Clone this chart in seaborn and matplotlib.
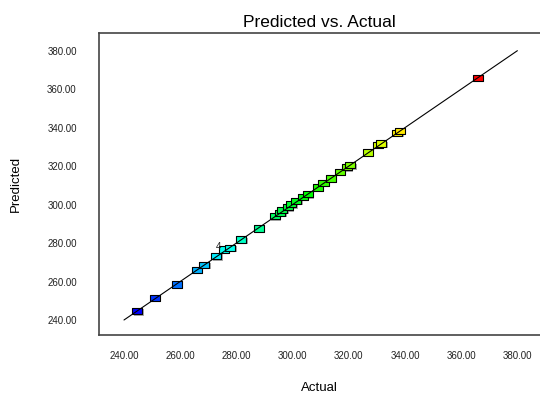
import numpy as np
import pandas as pd
import matplotlib
import matplotlib.pyplot as plt
import matplotlib.patheffects as pe
from matplotlib.path import Path
from matplotlib.colors import LinearSegmentedColormap
import seaborn as sns

matplotlib.use("Agg")

# data
actual = [244.8, 251.0, 258.9, 265.9, 268.6, 272.8, 275.6, 277.8, 281.8, 287.9,
          293.7, 295.6, 296.4, 298.3, 299.6, 301.3, 303.7, 305.5, 308.9, 311.0,
          313.5, 316.9, 319.2, 320.6, 326.8, 330.4, 331.6, 337.2, 338.1, 366.0]
predicted = [244.6, 251.6, 258.5, 266.0, 268.6, 273.2, 276.7, 277.6, 281.9, 287.6,
             294.0, 295.8, 297.2, 298.6, 300.2, 302.0, 304.0, 305.3, 308.9, 311.3,
             313.6, 317.0, 319.4, 320.4, 327.1, 331.0, 331.8, 337.3, 338.4, 366.0]
line_ends = [240, 380]
ticks = [240, 260, 280, 300, 320, 340, 360, 380]
replicate_label = "4"
replicate_pos = (274.6, 278.2)

df = pd.DataFrame({"Actual": actual, "Predicted": predicted})

sns.set_style("white")
plt.rcParams["font.family"] = ["Liberation Sans", "DejaVu Sans"]
plt.rcParams["text.color"] = "black"
plt.rcParams["axes.labelcolor"] = "black"
plt.rcParams["xtick.color"] = "#333333"
plt.rcParams["ytick.color"] = "#333333"

fig = plt.figure(figsize=(5.40, 4.01), dpi=100)
ax = fig.add_axes([0.1833, 0.1646, 0.8180, 0.7531])

# blue -> cyan -> green -> yellow -> red
cmap = LinearSegmentedColormap.from_list(
    "de", ["#0000ff", "#00ffff", "#00ff00", "#ffff00", "#ff0000"])

# wide rectangle marker
rect = Path([(-1, -0.62), (1, -0.62), (1, 0.62), (-1, 0.62), (-1, -0.62)],
            [Path.MOVETO, Path.LINETO, Path.LINETO, Path.LINETO, Path.CLOSEPOLY])

sns.scatterplot(data=df, x="Actual", y="Predicted", hue="Predicted",
                palette=cmap, hue_norm=(245, 366), marker=rect, s=52,
                edgecolor="black", linewidth=0.8, legend=False, ax=ax, zorder=2)
ax.collections[0].set_path_effects([
    pe.SimplePatchShadow(offset=(1, -1), shadow_rgbFace="#888888", alpha=0.7),
    pe.Normal()])

ax.plot(line_ends, line_ends, color="black", linewidth=0.8, zorder=3)
ax.text(*replicate_pos, replicate_label, ha="right", va="center",
        fontsize=7, color="#222222")

ax.set_xlim(231.1, 388.3)
ax.set_ylim(232.2, 389.2)
ax.set_xticks(ticks)
ax.set_yticks(ticks)
ax.set_xticklabels([f"{t:.2f}" for t in ticks])
ax.set_yticklabels([f"{t:.2f}" for t in ticks])
ax.tick_params(axis="both", labelsize=7, direction="out", length=8, width=0.9,
               color="#333333", labelcolor="#222222")
ax.tick_params(axis="y", pad=8)
ax.tick_params(axis="x", length=7, pad=4.5)

for side in ["left", "bottom", "top", "right"]:
    ax.spines[side].set_color("#444444")
    ax.spines[side].set_linewidth(1.2)

ax.set_title("Predicted vs. Actual", fontsize=12.5, pad=4, color="black")
ax.set_xlabel("Actual", fontsize=9.5, va="center")
ax.set_ylabel("Predicted", fontsize=9.5, va="center")
ax.xaxis.set_label_coords(0.5, -0.175)
ax.yaxis.set_label_coords(-0.188, 0.5)

fig.savefig("out.png", dpi=100)
